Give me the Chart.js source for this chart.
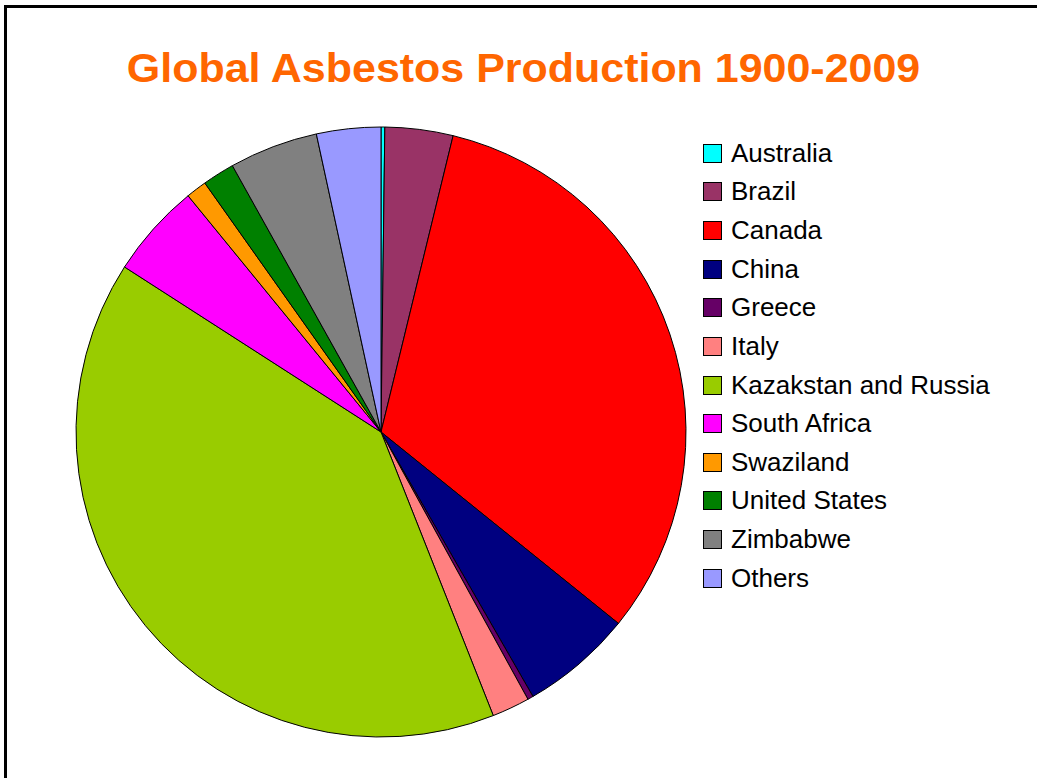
<!DOCTYPE html>
<html>
<head>
<meta charset="utf-8">
<title>Global Asbestos Production 1900-2009</title>
<script src="https://cdn.jsdelivr.net/npm/chart.js@4.4.0/dist/chart.umd.min.js"></script>
<style>
  html, body { margin: 0; padding: 0; background: #fff; overflow: hidden; }
  body { width: 1037px; height: 778px; position: relative; font-family: "Liberation Sans", Arial, sans-serif; }
  #frame { position: absolute; left: 4px; top: 5px; width: 1100px; height: 800px;
           border-left: 3px solid #000; border-top: 3px solid #000; }
  #title { position: absolute; left: 0; width: 1047px; top: 48px; text-align: center;
           font-weight: bold; font-size: 40px; line-height: 40px; color: #FF6600;
           transform: scaleX(1.074); transform-origin: 523px 0; white-space: nowrap; }
  #pieBox { position: absolute; left: 75px; top: 126px; width: 612px; height: 612px; }
  #legend { position: absolute; left: 703px; top: 134px; margin: 0; padding: 0; list-style: none; }
  #legend li { display: flex; align-items: center; height: 38.64px; font-size: 26px; color: #000; white-space: nowrap; }
  #legend .sw { width: 19px; height: 19px; box-sizing: border-box; border: 1px solid #000; margin-right: 9px; }
</style>
</head>
<body>
<div id="frame"></div>
<div id="title">Global Asbestos Production 1900-2009</div>
<div id="pieBox"><canvas id="pie" width="612" height="612"></canvas></div>
<ul id="legend"></ul>

<script>
// share of world output 1900-2009, %
const countries = ['Australia', 'Brazil', 'Canada', 'China', 'Greece', 'Italy',
  'Kazakstan and Russia', 'South Africa', 'Swaziland', 'United States', 'Zimbabwe', 'Others'];
const shares = [0.2, 3.6, 32.0, 5.9, 0.3, 2.0, 40.1, 5.0, 1.1, 1.7, 4.7, 3.4];
const colors = ['#00FFFF', '#993366', '#FF0000', '#000080', '#660066', '#FF8080',
  '#99CC00', '#FF00FF', '#FF9900', '#008000', '#808080', '#9999FF'];

const el = id => document.getElementById(id);

// legend as html, items come from chart.js itself
const htmlLegend = {
  id: 'htmlLegend',
  afterUpdate(chart) {
    const items = chart.options.plugins.legend.labels.generateLabels(chart);
    el('legend').innerHTML = items.map(it =>
      `<li><span class="sw" style="background:${it.fillStyle}"></span>${it.text}</li>`
    ).join('');
  }
};

new Chart(el('pie').getContext('2d'), {
  type: 'pie',
  data: {
    labels: countries,
    datasets: [{ data: shares, backgroundColor: colors, borderColor: '#000', borderWidth: 1, radius: 305 }]
  },
  options: {
    responsive: false,
    animation: false,
    layout: { padding: 0 },
    plugins: { legend: { display: false }, tooltip: { enabled: false } }
  },
  plugins: [htmlLegend]
});
</script>
</body>
</html>
